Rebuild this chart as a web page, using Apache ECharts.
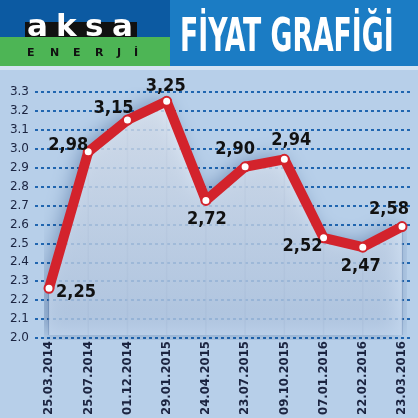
<!DOCTYPE html>
<html>
<head>
<meta charset="utf-8">
<script src="https://cdn.jsdelivr.net/npm/echarts@6/dist/echarts.min.js"></script>
<style>
  html, body { margin: 0; padding: 0; background: #b7cfe9; }
  #chart { width: 418px; height: 418px; }
</style>
</head>
<body>
<div id="chart"></div>
<script>
// tarihler ve fiyatlar
var dates = ['25.03.2014', '25.07.2014', '01.12.2014', '29.01.2015', '24.04.2015',
             '23.07.2015', '09.10.2015', '07.01.2016', '22.02.2016', '23.03.2016'];
var prices = [2.25, 2.98, 3.15, 3.25, 2.72, 2.90, 2.94, 2.52, 2.47, 2.58];
var yTicks = [2.0, 3.3, 0.1]; // min, max, step

// etiket kaydirmalari (x, y) - nokta basina
var labelOffsets = [[27, 4], [-20, -6], [-14, -12], [-1, -15], [1, 19], [-10, -17], [7, -19], [-21, 9], [-2, 19], [-13, -17]];

var labelFont = "'DejaVu Sans Condensed', sans-serif";

var mychart = echarts.init(document.getElementById('chart'));

var lineData = prices.map(function (v, i) {
  return {
    value: v,
    label: { offset: labelOffsets[i] }
  };
});

// logo harfleri
var logoGraphics = [];
['a', 'k', 's', 'a'].forEach(function (ch, i) {
  logoGraphics.push({ type: 'text', x: [27, 56, 85, 112][i], y: 28, style: { text: ch, fill: '#fff', font: 'bold 31px "DejaVu Sans"', textVerticalAlign: 'middle' } });
});
['E', 'N', 'E', 'R', 'J', 'İ'].forEach(function (ch, i) {
  logoGraphics.push({ type: 'text', x: [27, 50, 73, 95, 117, 134][i], y: 53, style: { text: ch, fill: '#111', font: 'bold 11px "DejaVu Sans"', textVerticalAlign: 'middle' } });
});

var option = {
  backgroundColor: '#b7cfe9',
  animation: false,
  graphic: [
    { type: 'rect', shape: { x: 0, y: 0, width: 418, height: 66 }, style: { fill: '#1b7cc4' } },
    { type: 'rect', shape: { x: 0, y: 0, width: 170, height: 37 }, style: { fill: '#0c5aa2' } },
    { type: 'rect', shape: { x: 0, y: 37, width: 170, height: 29 }, style: { fill: '#4db555' } },
    { type: 'rect', shape: { x: 25, y: 22, width: 112, height: 15 }, style: { fill: '#111' } }
  ].concat(logoGraphics).concat([
    { type: 'text', x: 180, y: 39, scaleX: 0.645, style: { text: 'FİYAT GRAFİĞİ', fill: '#fff', font: 'bold 46px "DejaVu Sans Condensed"', textVerticalAlign: 'middle' } },
    { type: 'rect', shape: { x: 0, y: 66, width: 418, height: 4 }, style: { fill: '#d3e3f3' } }
  ]),
  grid: [
    { left: 49, right: 16, top: 92, bottom: 80 },
    { left: 35, right: 6, top: 92, bottom: 80 }
  ],
  xAxis: [
    {
      type: 'category',
      gridIndex: 0,
      data: dates,
      boundaryGap: false,
      axisLine: { show: false },
      axisTick: { show: false },
      axisLabel: {
        rotate: 90,
        margin: 6,
        color: '#1b2440',
        fontFamily: labelFont,
        fontWeight: 'bold',
        fontSize: 13
      },
      splitLine: { show: false }
    },
    { type: 'value', gridIndex: 1, show: false }
  ],
  yAxis: [
    {
      type: 'value',
      gridIndex: 0,
      min: yTicks[0],
      max: yTicks[1],
      interval: yTicks[2],
      show: false
    },
    {
      type: 'value',
      gridIndex: 1,
      min: yTicks[0],
      max: yTicks[1],
      interval: yTicks[2],
      axisLine: { show: false },
      axisTick: { show: false },
      axisLabel: {
        margin: 6,
        color: '#1b2440',
        fontFamily: "'DejaVu Sans', sans-serif",
        fontSize: 12,
        formatter: function (v) { return v.toFixed(1); }
      },
      splitLine: {
        show: true,
        lineStyle: { color: '#2066b0', width: 2, type: [3, 3] }
      }
    }
  ],
  series: [
    {
      type: 'bar',
      xAxisIndex: 0,
      yAxisIndex: 0,
      data: prices,
      barWidth: 1.5,
      z: 3,
      itemStyle: { color: 'rgba(140,165,200,0.7)' },
      silent: true
    },
    {
      type: 'line',
      xAxisIndex: 0,
      yAxisIndex: 0,
      data: lineData,
      z: 4,
      symbol: 'circle',
      symbolSize: 9,
      itemStyle: { color: '#fff', borderColor: '#d3232c', borderWidth: 2 },
      lineStyle: { color: '#d3232c', width: 10 },
      areaStyle: {
        origin: 'start',
        color: new echarts.graphic.LinearGradient(0, 0, 0, 1, [
          { offset: 0, color: 'rgba(250,252,255,1)' },
          { offset: 1, color: 'rgba(200,218,240,1)' }
        ]),
        shadowColor: 'rgba(10,50,110,0.6)',
        shadowBlur: 20,
        shadowOffsetX: -5,
        shadowOffsetY: -3
      },
      label: {
        show: true,
        position: 'inside',
        color: '#111',
        fontFamily: labelFont,
        fontWeight: 'bold',
        fontSize: 18,
        formatter: function (p) { return p.value.toFixed(2).replace('.', ','); }
      }
    }
  ]
};

mychart.setOption(option);
</script>
</body>
</html>
